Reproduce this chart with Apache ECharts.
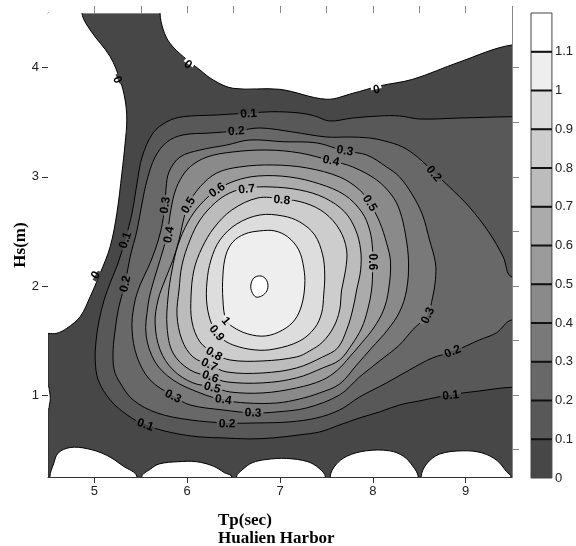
<!DOCTYPE html>
<html><head><meta charset="utf-8">
<script src="https://cdn.jsdelivr.net/npm/echarts@6/dist/echarts.min.js"></script>
<style>html,body{margin:0;padding:0;background:#fff}#c{width:576px;height:546px}</style>
</head><body><div id="c"></div>
<script>
// ---- axes ----
const tpMin = 4.5, tpMax = 9.5, hsMin = 0.25, hsMax = 4.5;
const tpTicks = [5, 6, 7, 8, 9];
const tpTopTicks = [5, 5.5, 6, 6.5, 7, 7.5, 8, 8.5, 9, 9.5];
const hsTicks = [1, 2, 3, 4];
const hsRightTicks = [0.5, 1, 1.5, 2, 2.5, 3, 3.5, 4];
const levels = [0, 0.1, 0.2, 0.3, 0.4, 0.5, 0.6, 0.7, 0.8, 0.9, 1, 1.1];
const levelColors = ['#474747','#585858','#686868','#797979','#8a8a8a','#9b9b9b','#ababab','#bcbcbc','#cdcdcd','#dddddd','#eeeeee','#ffffff'];
const peak = [6.78, 2.0];

// ---- regions below 0 (white) ----
const zeroUpperLeft = [[4.866,4.5],[4.955,4.344],[5.170,4.100],[5.277,3.886],[5.331,3.703],[5.349,3.520],[5.331,3.307],[5.296,3.032],[5.242,2.666],[5.170,2.360],[5.062,2.116],[4.955,1.902],[4.847,1.719],[4.704,1.613],[4.597,1.567],[4.5,1.565]];
const zeroUpperRight = [[5.707,4.5],[5.743,4.344],[5.815,4.222],[5.958,4.100],[6.138,3.978],[6.281,3.886],[6.496,3.810],[6.998,3.801],[7.5,3.710],[7.786,3.765],[8.073,3.832],[8.431,3.893],[8.933,4.051],[9.5,4.207]];
const zeroLeftBump = [[4.5,1.08],[4.515,1.04],[4.525,0.97],[4.515,0.91],[4.5,0.87]];
const zeroBottom1 = [[4.52,0.25],[4.56,0.37],[4.61,0.47],[4.74,0.52],[4.92,0.51],[5.13,0.45],[5.31,0.35],[5.46,0.25]];
const zeroBottom2 = [[5.51,0.25],[5.60,0.32],[5.70,0.37],[5.90,0.39],[6.10,0.39],[6.28,0.35],[6.40,0.29],[6.48,0.25]];
const zeroBottom3 = [[6.53,0.25],[6.60,0.32],[6.70,0.38],[6.85,0.41],[7.07,0.42],[7.30,0.39],[7.42,0.33],[7.49,0.25]];
const zeroBottom4 = [[7.54,0.25],[7.60,0.36],[7.72,0.44],[7.93,0.49],[8.18,0.49],[8.33,0.44],[8.43,0.35],[8.49,0.25]];
const zeroBottom5 = [[8.52,0.25],[8.58,0.37],[8.72,0.46],[8.97,0.49],[9.18,0.47],[9.34,0.40],[9.44,0.30],[9.49,0.25]];

// ---- contour lines (Tp, Hs) ----
const c01 = [[9.5,3.550],[8.933,3.538],[8.503,3.529],[8.288,3.557],[8.073,3.557],[7.783,3.538],[7.535,3.511],[7.374,3.557],[7.213,3.584],[6.922,3.596],[6.675,3.584],[6.320,3.566],[5.955,3.550],[5.783,3.505],[5.632,3.401],[5.514,3.181],[5.460,2.943],[5.406,2.669],[5.331,2.421],[5.256,2.211],[5.170,2.028],[5.105,1.872],[5.052,1.689],[5.019,1.505],[5.009,1.322],[5.041,1.139],[5.170,0.956],[5.352,0.819],[5.546,0.727],[5.847,0.654],[6.138,0.617],[6.385,0.608],[6.675,0.599],[6.922,0.608],[7.213,0.636],[7.428,0.663],[7.643,0.727],[7.858,0.791],[8.073,0.846],[8.288,0.910],[8.503,0.947],[8.826,1.002],[9.148,1.038],[9.5,1.072]];
const c02 = [[9.5,2.082],[9.406,2.265],[9.256,2.485],[9.041,2.723],[8.826,2.907],[8.664,3.035],[8.481,3.181],[8.320,3.273],[8.127,3.328],[7.966,3.355],[7.751,3.364],[7.503,3.364],[7.138,3.410],[6.783,3.447],[6.535,3.419],[6.245,3.401],[5.955,3.383],[5.783,3.319],[5.654,3.181],[5.568,2.971],[5.514,2.760],[5.460,2.513],[5.385,2.265],[5.331,2.028],[5.256,1.780],[5.224,1.597],[5.202,1.414],[5.213,1.231],[5.277,1.112],[5.417,0.956],[5.675,0.837],[6.030,0.773],[6.428,0.745],[6.751,0.745],[7.105,0.755],[7.396,0.791],[7.643,0.864],[7.858,0.983],[8.148,1.112],[8.396,1.231],[8.643,1.341],[8.858,1.396],[9.148,1.505],[9.331,1.570],[9.5,1.689]];
const c03 = [[5.923,3.181],[6.138,3.245],[6.428,3.291],[6.675,3.337],[7.030,3.321],[7.396,3.310],[7.697,3.236],[7.933,3.200],[8.148,3.090],[8.288,2.998],[8.428,2.833],[8.536,2.650],[8.611,2.421],[8.675,2.211],[8.675,2.055],[8.643,1.890],[8.589,1.735],[8.428,1.597],[8.288,1.460],[8.073,1.313],[7.858,1.167],[7.643,1.002],[7.288,0.883],[6.966,0.846],[6.708,0.837],[6.385,0.864],[6.030,0.910],[5.847,0.993],[5.600,1.139],[5.460,1.350],[5.406,1.597],[5.428,1.826],[5.492,2.009],[5.578,2.165],[5.654,2.330],[5.718,2.513],[5.761,2.742],[5.772,2.897],[5.804,3.044]];
const c04 = [[5.923,2.971],[6.030,3.090],[6.213,3.181],[6.492,3.227],[6.858,3.245],[7.213,3.218],[7.557,3.145],[7.783,3.090],[8.041,2.971],[8.202,2.833],[8.288,2.696],[8.353,2.467],[8.385,2.220],[8.364,1.963],[8.288,1.762],[8.159,1.597],[7.987,1.432],[7.826,1.276],[7.643,1.102],[7.428,1.020],[7.213,0.965],[6.966,0.928],[6.643,0.928],[6.385,0.956],[6.138,1.020],[5.847,1.139],[5.654,1.304],[5.557,1.551],[5.578,1.826],[5.611,1.963],[5.675,2.147],[5.740,2.330],[5.783,2.467],[5.815,2.650],[5.858,2.833]];
const c05 = [[6.009,2.742],[6.138,2.907],[6.320,3.035],[6.568,3.090],[6.922,3.108],[7.288,3.081],[7.643,2.998],[7.858,2.879],[7.966,2.760],[8.073,2.586],[8.148,2.394],[8.191,2.220],[8.170,1.963],[8.116,1.780],[8.009,1.615],[7.880,1.478],[7.751,1.350],[7.621,1.231],[7.460,1.139],[7.180,1.066],[6.815,1.020],[6.460,1.029],[6.277,1.075],[6.062,1.112],[5.847,1.231],[5.708,1.414],[5.654,1.661],[5.686,1.872],[5.761,2.055],[5.847,2.238],[5.912,2.421],[5.955,2.586]];
const c06 = [[6.320,2.879],[6.514,2.962],[6.761,3.007],[7.105,2.998],[7.428,2.934],[7.697,2.833],[7.880,2.678],[7.966,2.513],[7.998,2.330],[7.998,2.147],[7.987,1.963],[7.944,1.780],[7.880,1.615],[7.772,1.460],[7.643,1.322],[7.460,1.249],[7.180,1.158],[6.815,1.112],[6.428,1.121],[6.256,1.167],[6.030,1.231],[5.847,1.386],[5.783,1.624],[5.794,1.899],[5.837,2.147],[5.901,2.375],[6.009,2.586],[6.138,2.742]];
const c07 = [[6.643,2.897],[6.890,2.907],[7.213,2.879],[7.482,2.806],[7.697,2.678],[7.815,2.513],[7.869,2.330],[7.869,2.147],[7.826,1.963],[7.783,1.780],[7.718,1.597],[7.621,1.432],[7.460,1.350],[7.180,1.249],[6.815,1.203],[6.428,1.212],[6.245,1.276],[6.062,1.350],[5.944,1.505],[5.890,1.735],[5.912,1.963],[5.944,2.192],[6.030,2.421],[6.138,2.604],[6.299,2.760],[6.460,2.852]];
const c08 = [[6.761,2.806],[7.019,2.797],[7.267,2.760],[7.482,2.669],[7.643,2.513],[7.718,2.330],[7.707,2.147],[7.664,1.963],[7.643,1.780],[7.578,1.624],[7.460,1.487],[7.320,1.405],[7.180,1.350],[6.815,1.313],[6.460,1.322],[6.288,1.386],[6.138,1.487],[6.052,1.670],[6.041,1.899],[6.073,2.147],[6.159,2.348],[6.288,2.531],[6.481,2.696]];
const c09 = [[6.783,2.650],[7.030,2.641],[7.213,2.586],[7.374,2.467],[7.460,2.284],[7.482,2.101],[7.471,1.918],[7.449,1.753],[7.374,1.615],[7.213,1.496],[6.944,1.423],[6.729,1.414],[6.492,1.460],[6.353,1.533],[6.267,1.643],[6.213,1.826],[6.213,2.036],[6.256,2.238],[6.353,2.421],[6.535,2.568]];
const c10 = [[6.783,2.504],[6.944,2.504],[7.084,2.449],[7.202,2.330],[7.256,2.165],[7.267,2.009],[7.234,1.826],[7.159,1.689],[7.030,1.597],[6.847,1.542],[6.654,1.560],[6.492,1.625],[6.417,1.689],[6.385,1.872],[6.385,2.101],[6.417,2.284],[6.492,2.403],[6.621,2.476]];
const c11 = [[6.783,2.092],[6.837,2.073],[6.869,2.018],[6.858,1.954],[6.804,1.909],[6.740,1.899],[6.697,1.945],[6.686,2.009],[6.718,2.073]];

// ---- contour labels ----
const labelText = ['0','0','0','0','0.1','0.2','0.3','0.4','0.2','0.1','0.2','0.3','0.4','0.5','0.6','0.7','0.8','0.5','0.6','0.3','0.2','0.1','0.3','0.1','0.2','0.3','0.4','0.5','0.6','0.7','0.8','0.9','1'];
const labelTp = [6.01,8.04,5.25,5.01,6.66,6.53,7.70,7.55,8.66,5.33,5.33,5.76,5.80,6.01,6.32,6.64,7.02,7.97,8.00,8.59,8.86,8.84,5.85,5.55,6.43,6.71,6.39,6.27,6.25,6.24,6.29,6.32,6.42];
const labelHs = [4.03,3.80,3.89,2.10,3.58,3.42,3.24,3.15,3.03,2.42,2.02,2.74,2.47,2.74,2.88,2.89,2.79,2.76,2.22,1.73,1.40,1.00,0.99,0.73,0.74,0.84,0.96,1.07,1.17,1.28,1.38,1.57,1.68];
const labelAngle = [-35,12,-65,60,4,4,-10,-12,-50,72,78,82,80,60,35,6,-5,-58,-90,65,22,6,-27,-20,-1,-3,-8,-15,-20,-25,-30,-52,-50];

// ---- drawing ----
const regions = [
  {pts: zeroUpperLeft, fill: '#ffffff'},
  {pts: zeroUpperRight, fill: '#ffffff'},
  {pts: zeroLeftBump, fill: '#ffffff'},
  {pts: zeroBottom1, fill: '#ffffff'},
  {pts: zeroBottom2, fill: '#ffffff'},
  {pts: zeroBottom3, fill: '#ffffff'},
  {pts: zeroBottom4, fill: '#ffffff'},
  {pts: zeroBottom5, fill: '#ffffff'},
  {pts: c01, fill: levelColors[1]},
  {pts: c02, fill: levelColors[2]},
  {pts: c03, fill: levelColors[3]},
  {pts: c04, fill: levelColors[4]},
  {pts: c05, fill: levelColors[5]},
  {pts: c06, fill: levelColors[6]},
  {pts: c07, fill: levelColors[7]},
  {pts: c08, fill: levelColors[8]},
  {pts: c09, fill: levelColors[9]},
  {pts: c10, fill: levelColors[10]},
  {pts: c11, fill: levelColors[11]}
];

function edgeOf(p) {
  const e = 1e-9;
  if (p[0] <= tpMin + e) return 'L';
  if (p[0] >= tpMax - e) return 'R';
  if (p[1] >= hsMax - e) return 'T';
  if (p[1] <= hsMin + e) return 'B';
  return null;
}

function renderRegion(params, api) {
  const r = regions[params.dataIndex];
  const cs = params.coordSys;
  const pts = r.pts.map(p => api.coord(p));
  const e0 = edgeOf(r.pts[0]), e1 = edgeOf(r.pts[r.pts.length - 1]);
  if (e0 && e1) {
    const off = 60;
    const out = (p, e) => e === 'L' ? [p[0] - off, p[1]] : e === 'R' ? [p[0] + off, p[1]] : e === 'T' ? [p[0], p[1] - off] : [p[0], p[1] + off];
    const first = pts[0], last = pts[pts.length - 1];
    pts.push(out(last, e1));
    if (e0 !== e1) {
      const cx = (e0 === 'L' || e1 === 'L') ? cs.x - off : cs.x + cs.width + off;
      const cy = (e0 === 'T' || e1 === 'T') ? cs.y - off : cs.y + cs.height + off;
      pts.push([cx, cy]);
    }
    pts.push(out(first, e0));
  }
  return {
    type: 'group',
    clipPath: {type: 'rect', shape: {x: cs.x, y: cs.y, width: cs.width, height: cs.height}},
    children: [{
      type: 'polygon',
      shape: {points: pts, smooth: 0.35},
      style: {fill: r.fill, stroke: '#000', lineWidth: 1}
    }]
  };
}

function renderLabel(params, api) {
  const i = params.dataIndex;
  const p = api.coord([labelTp[i], labelHs[i]]);
  const pk = api.coord(peak);
  const th = labelAngle[i] * Math.PI / 180;
  const up = [-Math.sin(th), -Math.cos(th)];
  const towardPeak = up[0] * (pk[0] - p[0]) + up[1] * (pk[1] - p[1]) > 0;
  const k = Math.round(parseFloat(labelText[i]) * 10);
  const hiCol = levelColors[k];
  const loCol = k > 0 ? levelColors[k - 1] : '#ffffff';
  const txt = labelText[i];
  const w = txt.replace('.', '').length * 6.7 + (txt.indexOf('.') >= 0 ? 3.3 : 0) + 4;
  return {
    type: 'group', x: p[0], y: p[1], rotation: th,
    children: [
      {type: 'rect', shape: {x: -w / 2, y: -4, width: w, height: 4}, style: {fill: towardPeak ? hiCol : loCol}},
      {type: 'rect', shape: {x: -w / 2, y: 0, width: w, height: 4}, style: {fill: towardPeak ? loCol : hiCol}},
      {type: 'text', x: 0, y: 0.5, style: {text: txt, font: 'bold 12px "Liberation Sans", Arial, sans-serif', fill: '#000', align: 'center', verticalAlign: 'middle'}}
    ]
  };
}

function renderBand(params, api) {
  const i = params.dataIndex;
  const lo = levels[i], hi = lo + 0.1;
  const a = api.coord([0, hi]), b = api.coord([1, lo]);
  const children = [{type: 'rect', shape: {x: a[0], y: a[1], width: b[0] - a[0], height: b[1] - a[1]}, style: {fill: levelColors[i], stroke: '#444', lineWidth: 1}}];
  if (i > 0) children.push({type: 'line', shape: {x1: a[0], y1: b[1], x2: b[0], y2: b[1]}, style: {stroke: '#111', lineWidth: 2}});
  return {type: 'group', children};
}

const tickFont = {fontFamily: '"Liberation Sans", Arial, sans-serif', fontSize: 13, color: '#222'};
const chart = echarts.init(document.getElementById('c'), null, {renderer: 'canvas'});
chart.setOption({
  animation: false,
  backgroundColor: '#fff',
  grid: [
    {left: 48, top: 13, width: 464, height: 464, show: true, backgroundColor: levelColors[0], borderWidth: 0},
    {left: 531, top: 13, width: 23, height: 465, show: false}
  ],
  xAxis: [
    {type: 'value', gridIndex: 0, position: 'bottom', min: tpMin, max: tpMax,
     axisLine: {show: true, lineStyle: {color: '#333', width: 1}},
     axisTick: {show: true, length: 6, customValues: tpTicks, lineStyle: {color: '#333'}},
     axisLabel: Object.assign({customValues: tpTicks, margin: 8}, tickFont),
     splitLine: {show: false}},
    {type: 'value', gridIndex: 0, position: 'top', min: tpMin, max: tpMax,
     axisLine: {show: true, lineStyle: {color: '#888', width: 1}},
     axisTick: {show: true, length: 7, customValues: tpTopTicks, lineStyle: {color: '#888'}},
     axisLabel: {show: false}, splitLine: {show: false}},
    {type: 'value', gridIndex: 1, min: 0, max: 1, show: false}
  ],
  yAxis: [
    {type: 'value', gridIndex: 0, position: 'left', min: hsMin, max: hsMax,
     axisLine: {show: true, lineStyle: {color: '#333', width: 1}},
     axisTick: {show: true, length: 6, customValues: hsTicks, lineStyle: {color: '#333'}},
     axisLabel: Object.assign({customValues: hsTicks, margin: 9}, tickFont),
     splitLine: {show: false}},
    {type: 'value', gridIndex: 0, position: 'right', min: hsMin, max: hsMax,
     axisLine: {show: true, lineStyle: {color: '#888', width: 1}},
     axisTick: {show: true, length: 7, customValues: hsRightTicks, lineStyle: {color: '#888'}},
     axisLabel: {show: false}, splitLine: {show: false}},
    {type: 'value', gridIndex: 1, position: 'right', min: 0, max: 1.2,
     axisLine: {show: false}, axisTick: {show: false}, splitLine: {show: false},
     axisLabel: Object.assign({customValues: levels, margin: 3}, tickFont)}
  ],
  graphic: [
    {type: 'text', left: 218, top: 512,
     style: {text: 'Tp(sec)\nHualien Harbor', font: 'bold 17px "Liberation Serif", "Times New Roman", serif', fill: '#000', lineHeight: 18}},
    {type: 'text', x: 21, y: 245, rotation: Math.PI / 2,
     style: {text: 'Hs(m)', font: 'bold 17px "Liberation Serif", "Times New Roman", serif', fill: '#000', align: 'center', verticalAlign: 'middle'}}
  ],
  series: [
    {type: 'custom', xAxisIndex: 0, yAxisIndex: 0, renderItem: renderRegion, silent: true,
     data: regions.map(() => [7, 2]), z: 2},
    {type: 'custom', xAxisIndex: 0, yAxisIndex: 0, renderItem: renderLabel, silent: true,
     data: labelText.map((t, i) => [labelTp[i], labelHs[i]]), z: 3},
    {type: 'custom', xAxisIndex: 2, yAxisIndex: 2, renderItem: renderBand, silent: true,
     data: levels.map(l => [0.5, l + 0.05]), z: 2}
  ]
});
</script>
</body></html>
